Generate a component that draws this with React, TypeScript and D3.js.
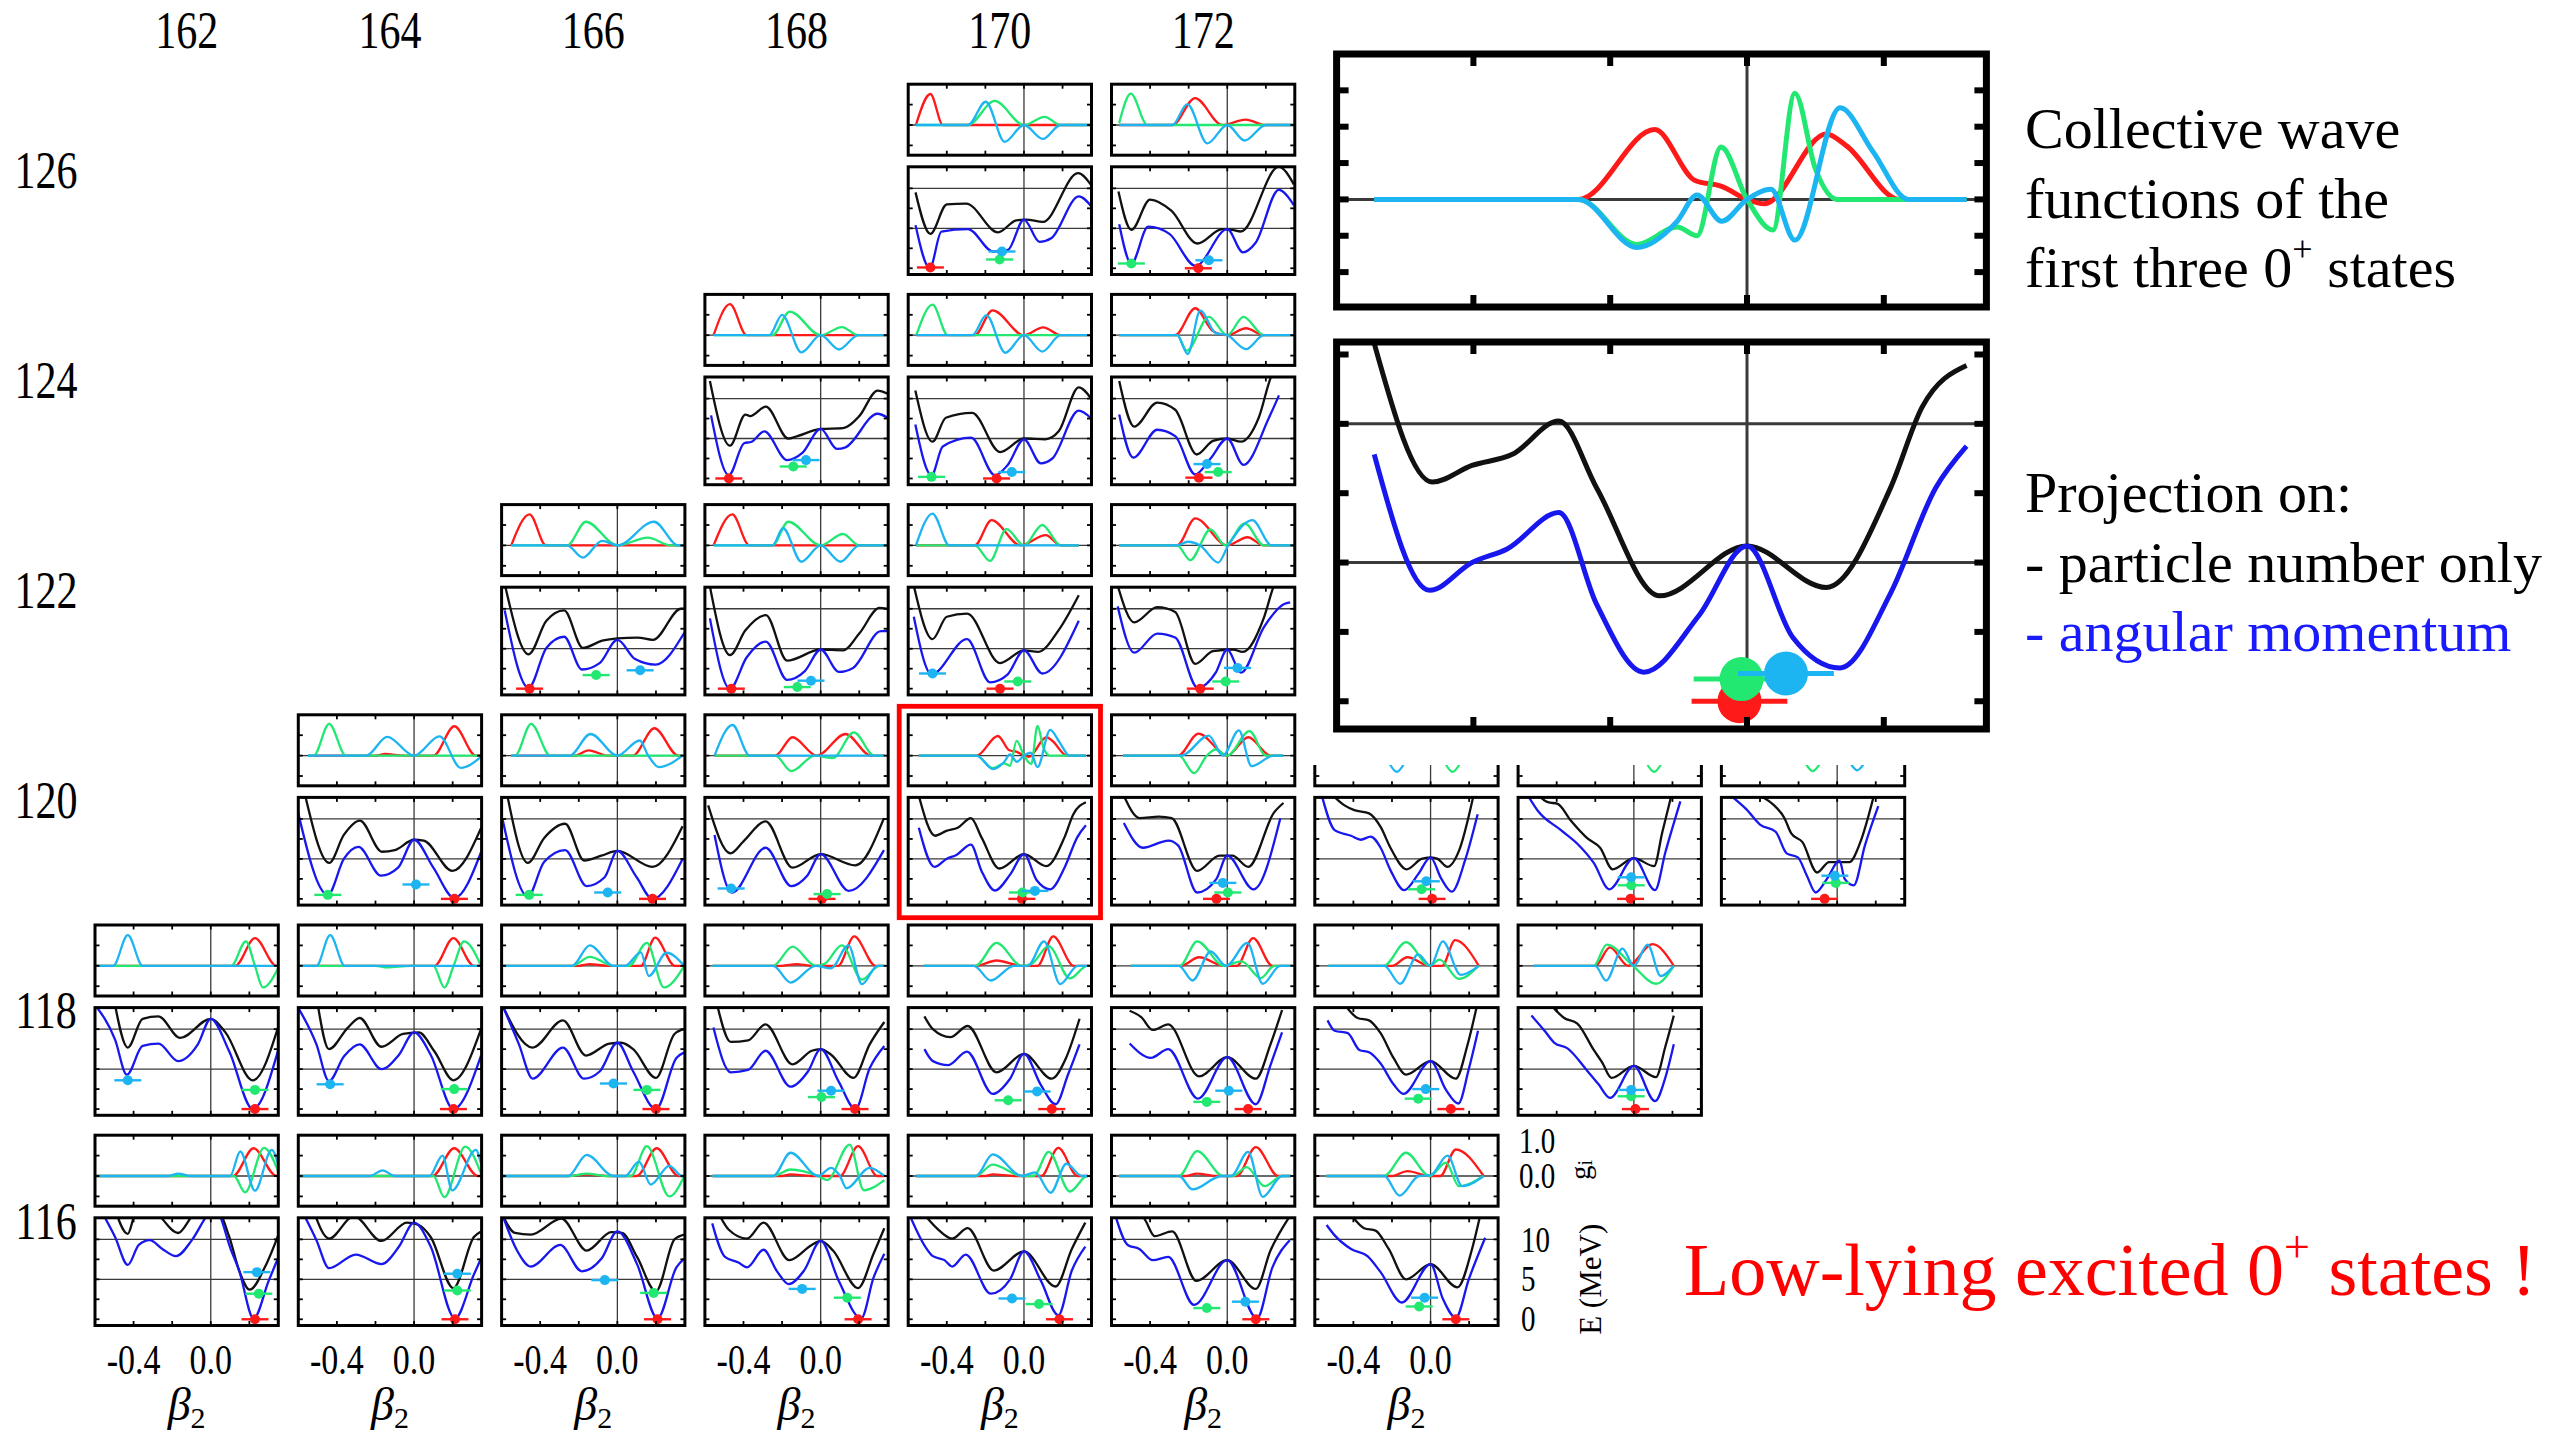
import React from 'react';
import * as d3 from 'd3';

// axis labels
const N_HEADERS = [162, 164, 166, 168, 170, 172];
const Z_ROWS = [126, 124, 122, 120, 118, 116];
const N_BOTTOM = [162, 164, 166, 168, 170, 172, 174];
const BETA_TICKS = [-0.4, -0.2, 0, 0.2];
const BETA_LABELS = [-0.4, 0.0];
const E_TICKS = [0, 2.5, 5, 7.5, 10];
const E_TICKS_BIG = [0, 2.5, 5, 7.5, 10, 12.5];
const E_GRID = [5, 10];
const G_TICKS = [-0.5, 0, 0.5];
const G_TICKS_BIG = [-0.5, -0.25, 0, 0.25, 0.5, 0.75];
const G_LABELS = ['1.0', '0.0'];
const E_LABELS = ['10', '5', '0'];

// cells [Z, N]
const CELLS = [
  [126, 170], [126, 172],
  [124, 168], [124, 170], [124, 172],
  [122, 166], [122, 168], [122, 170], [122, 172],
  [120, 164], [120, 166], [120, 168], [120, 170], [120, 172], [120, 174], [120, 176], [120, 178],
  [118, 162], [118, 164], [118, 166], [118, 168], [118, 170], [118, 172], [118, 174], [118, 176],
  [116, 162], [116, 164], [116, 166], [116, 168], [116, 170], [116, 172], [116, 174],
];
const HIGHLIGHT = [120, 170];

// E(beta2) projected on particle number only (black)
const PNP_CURVES = [
  [[-0.562, 9.5], [-0.485, 4.3], [-0.40, 8.0], [-0.30, 8.1], [-0.134, 4.5], [-0.04, 6.0], [0.01, 6.1], [0.098, 5.8], [0.28, 11.9], [0.357, 10.1]],
  [[-0.564, 9.6], [-0.497, 4.8], [-0.40, 8.6], [-0.29, 7.2], [-0.155, 3.1], [-0.026, 4.9], [0.026, 4.8], [0.07, 4.6], [0.267, 12.7], [0.345, 10.5]],
  [[-0.574, 12.2], [-0.47, 4.1], [-0.39, 8.0], [-0.366, 7.8], [-0.284, 9.0], [-0.168, 5.0], [-0.121, 5.3], [0, 6.2], [0.116, 6.3], [0.2, 7.8], [0.295, 11.0], [0.347, 10.6]],
  [[-0.563, 11.0], [-0.474, 4.6], [-0.405, 7.6], [-0.268, 8.2], [-0.124, 3.3], [0, 5.0], [0.11, 4.9], [0.18, 5.9], [0.284, 11.4], [0.345, 10.1]],
  [[-0.56, 12.2], [-0.482, 6.5], [-0.363, 9.5], [-0.27, 8.6], [-0.158, 3.0], [-0.074, 4.7], [0, 5.0], [0.071, 4.6], [0.163, 7.6], [0.23, 12.9], [0.26, 14]],
  [[-0.58, 12.7], [-0.46, 4.3], [-0.368, 8.5], [-0.276, 9.8], [-0.179, 5.1], [-0.079, 6.0], [0, 6.3], [0.105, 6.4], [0.184, 6.1], [0.33, 10.0], [0.347, 10.0]],
  [[-0.574, 12.8], [-0.47, 4.2], [-0.39, 7.3], [-0.284, 9.2], [-0.174, 3.5], [0, 4.9], [0.116, 4.8], [0.2, 6.9], [0.305, 10.1], [0.347, 10.0]],
  [[-0.571, 12.9], [-0.474, 6.2], [-0.4, 9.0], [-0.295, 9.4], [-0.124, 3.2], [0, 4.8], [0.074, 4.6], [0.179, 7.3], [0.284, 11.7]],
  [[-0.568, 12.9], [-0.482, 8.3], [-0.363, 10.2], [-0.27, 9.6], [-0.166, 3.1], [-0.074, 4.7], [0.03, 4.9], [0.08, 4.6], [0.19, 8.9], [0.242, 12.9], [0.26, 13.8]],
  [[-0.563, 12.8], [-0.44, 4.5], [-0.364, 8.0], [-0.281, 9.8], [-0.166, 5.9], [-0.1, 6.1], [0, 7.4], [0.05, 7.3], [0.199, 3.5], [0.348, 8.9]],
  [[-0.57, 12.9], [-0.464, 4.5], [-0.38, 7.6], [-0.271, 9.4], [-0.172, 4.8], [-0.083, 5.4], [0, 6.0], [0.182, 4.0], [0.338, 9.1]],
  [[-0.583, 11.7], [-0.467, 5.7], [-0.4, 7.2], [-0.285, 9.7], [-0.146, 3.9], [0, 5.6], [0.179, 4.2], [0.328, 10.1]],
  [[-0.545, 12.9], [-0.46, 7.9], [-0.402, 8.5], [-0.343, 8.9], [-0.275, 10.1], [-0.22, 7.7], [-0.128, 3.8], [0, 5.6], [0.116, 4.1], [0.21, 7.7], [0.256, 10.6], [0.321, 12.1]],
  [[-0.536, 12.9], [-0.454, 10.1], [-0.354, 10.3], [-0.288, 10.1], [-0.156, 3.5], [-0.04, 5.4], [0.026, 5.4], [0.109, 4.0], [0.242, 10.8], [0.291, 12.0]],
  [[-0.505, 12.9], [-0.446, 11.7], [-0.395, 11.1], [-0.319, 10.7], [-0.259, 9.0], [-0.208, 6.4], [-0.124, 3.7], [-0.047, 5.0], [0, 5.2], [0.037, 5.0], [0.088, 4.0], [0.147, 6.0], [0.224, 13.1]],
  [[-0.497, 13], [-0.446, 12.1], [-0.395, 11.9], [-0.327, 9.8], [-0.242, 7.6], [-0.175, 6.4], [-0.11, 3.7], [0, 5.1], [0.105, 4.1], [0.147, 8.3], [0.195, 13]],
  [[-0.4, 12.9], [-0.331, 11.8], [-0.273, 10.1], [-0.238, 8.2], [-0.18, 7.1], [-0.104, 3.3], [-0.042, 4.6], [0.063, 4.6], [0.12, 7.1], [0.19, 12.9]],
  [[-0.5, 13.5], [-0.43, 7.7], [-0.353, 11.3], [-0.271, 11.6], [-0.159, 8.9], [0, 11.3], [0.076, 9.6], [0.218, 3.6], [0.351, 10.4]],
  [[-0.5, 13.2], [-0.441, 7.5], [-0.343, 10.2], [-0.282, 11.4], [-0.169, 7.8], [-0.057, 9.4], [0.024, 9.6], [0.106, 7.2], [0.204, 3.6], [0.347, 10]],
  [[-0.596, 13], [-0.439, 7.7], [-0.282, 11.1], [-0.163, 6.7], [-0.041, 8.2], [0.02, 8.3], [0.082, 7.5], [0.2, 3.9], [0.296, 9.4], [0.347, 10]],
  [[-0.536, 13], [-0.466, 8.4], [-0.376, 8.6], [-0.286, 10.6], [-0.146, 5.6], [-0.046, 7.3], [0, 7.5], [0.054, 6.8], [0.17, 3.9], [0.254, 8.1], [0.33, 10.9]],
  [[-0.516, 11.6], [-0.472, 10], [-0.382, 9.0], [-0.292, 10.4], [-0.142, 4.6], [0, 6.9], [0.144, 3.8], [0.218, 6.4], [0.288, 11.3]],
  [[-0.506, 12.3], [-0.446, 11.5], [-0.386, 9.9], [-0.306, 10.6], [-0.146, 4.1], [0, 6.5], [0.148, 3.8], [0.224, 8.1], [0.284, 12.4]],
  [[-0.446, 13.1], [-0.378, 11.4], [-0.319, 11.1], [-0.259, 9.5], [-0.192, 6.4], [-0.127, 4.3], [0, 6.0], [0.131, 3.8], [0.19, 7.9], [0.241, 13]],
  [[-0.429, 13], [-0.361, 11.4], [-0.293, 10.7], [-0.208, 7.4], [-0.166, 5.9], [-0.115, 3.9], [0, 5.4], [0.114, 4.0], [0.164, 7.9], [0.207, 11.7]],
  [[-0.5, 14], [-0.43, 10.7], [-0.394, 13.1], [-0.33, 14.5], [-0.271, 13.1], [-0.169, 10.8], [-0.088, 13.1], [0.024, 14], [0.096, 10.3], [0.147, 6.1], [0.202, 3.7], [0.28, 6.5], [0.351, 10.6]],
  [[-0.52, 13.5], [-0.441, 10.1], [-0.312, 12.9], [-0.169, 9.8], [-0.037, 12.1], [0.024, 11.8], [0.086, 10.3], [0.204, 3.9], [0.31, 10.3], [0.347, 11]],
  [[-0.596, 13.1], [-0.531, 10.8], [-0.449, 10.6], [-0.29, 12.6], [-0.159, 8.6], [-0.031, 10.9], [0.024, 10.8], [0.102, 7.8], [0.2, 3.5], [0.296, 10.0], [0.347, 10.6]],
  [[-0.526, 13.1], [-0.476, 11.2], [-0.382, 10.1], [-0.296, 12.1], [-0.162, 7.4], [-0.046, 9.3], [0, 9.8], [0.064, 8.6], [0.194, 3.9], [0.274, 8.2], [0.33, 11.4]],
  [[-0.516, 13.1], [-0.452, 11.4], [-0.372, 10.1], [-0.292, 11.4], [-0.156, 6.1], [0, 8.5], [0.164, 4.1], [0.248, 8.8], [0.318, 12.1]],
  [[-0.496, 13], [-0.436, 12.7], [-0.376, 10.4], [-0.286, 11.0], [-0.16, 4.8], [0, 7.4], [0.148, 3.8], [0.224, 8.6], [0.324, 12.9]],
  [[-0.412, 13.1], [-0.344, 11.4], [-0.285, 11.1], [-0.217, 8.8], [-0.127, 5.0], [0, 6.9], [0.139, 4.0], [0.215, 8.8], [0.258, 13.1]],
];

// E(beta2) projected on angular momentum too (blue)
const AMP_CURVES = [
  [[-0.562, 5.4], [-0.488, 0], [-0.428, 4.6], [-0.29, 4.9], [-0.16, 2.1], [-0.083, 2.3], [0, 6.1], [0.081, 3.3], [0.141, 3.75], [0.284, 9.0], [0.357, 7.5]],
  [[-0.56, 5.5], [-0.497, 0.6], [-0.41, 5.2], [-0.30, 4.3], [-0.164, 0.3], [0, 4.9], [0.081, 2.0], [0.147, 3.2], [0.267, 9.8], [0.345, 7.9]],
  [[-0.568, 7.9], [-0.476, 0.4], [-0.397, 4.4], [-0.358, 4.6], [-0.292, 5.9], [-0.174, 2.3], [-0.095, 3.2], [0, 6.2], [0.084, 3.7], [0.129, 3.9], [0.295, 8.1], [0.347, 7.6]],
  [[-0.563, 6.75], [-0.479, 0.4], [-0.421, 4.0], [-0.274, 5.1], [-0.15, 0.4], [-0.084, 1.7], [0, 4.9], [0.087, 1.9], [0.147, 2.5], [0.284, 8.5], [0.345, 7.6]],
  [[-0.56, 8.0], [-0.487, 2.6], [-0.363, 6.1], [-0.27, 5.3], [-0.166, 0.5], [-0.087, 2.5], [0, 5.0], [0.084, 1.7], [0.216, 7.6], [0.268, 10.4]],
  [[-0.584, 9.8], [-0.46, 0.1], [-0.368, 5.1], [-0.276, 6.5], [-0.184, 2.4], [-0.092, 3.2], [0, 6.1], [0.092, 3.7], [0.197, 3.0], [0.347, 7.0]],
  [[-0.574, 8.8], [-0.47, 0], [-0.384, 3.9], [-0.284, 5.9], [-0.174, 1.1], [-0.082, 2.2], [0, 4.9], [0.095, 2.1], [0.168, 2.6], [0.313, 7.2], [0.347, 7.2]],
  [[-0.571, 9.0], [-0.479, 1.8], [-0.295, 6.2], [-0.176, 0.8], [-0.084, 1.8], [0, 4.8], [0.095, 1.9], [0.284, 8.5]],
  [[-0.568, 10.3], [-0.482, 4.5], [-0.363, 6.9], [-0.27, 6.4], [-0.153, 0.1], [-0.06, 2.0], [0, 4.9], [0.071, 2.0], [0.19, 7.7], [0.295, 10.6], [0.326, 10.8]],
  [[-0.606, 11.3], [-0.447, 0.5], [-0.364, 5.0], [-0.288, 6.5], [-0.172, 2.9], [-0.083, 3.9], [0, 7.4], [0.1, 3.9], [0.209, 0.1], [0.348, 5.9]],
  [[-0.596, 10.1], [-0.464, 0.3], [-0.38, 4.6], [-0.271, 6.1], [-0.159, 1.6], [-0.066, 2.7], [0, 6.0], [0.1, 2.7], [0.182, 0], [0.338, 5.0]],
  [[-0.55, 8.0], [-0.46, 0.8], [-0.285, 6.4], [-0.152, 1.6], [-0.07, 2.9], [0, 5.6], [0.146, 1.0], [0.328, 6.1]],
  [[-0.545, 8.9], [-0.464, 4.0], [-0.402, 5.0], [-0.35, 5.5], [-0.275, 6.8], [-0.22, 3.5], [-0.151, 1.05], [-0.07, 3.1], [0, 5.6], [0.067, 2.3], [0.136, 1.2], [0.21, 3.9], [0.276, 7.7], [0.321, 9.2]],
  [[-0.536, 9.5], [-0.437, 6.4], [-0.305, 7.3], [-0.255, 6.7], [-0.156, 0.8], [-0.056, 2.5], [0, 5.4], [0.136, 1.2], [0.275, 10.1]],
  [[-0.561, 12.7], [-0.497, 8.6], [-0.412, 7.9], [-0.361, 7.4], [-0.31, 7.8], [-0.259, 6.4], [-0.208, 3.6], [-0.137, 1.1], [-0.064, 3.1], [0, 5.2], [0.054, 2.6], [0.11, 0.9], [0.181, 5.0], [0.244, 10.6]],
  [[-0.551, 13], [-0.497, 11], [-0.378, 8.6], [-0.293, 6.9], [-0.208, 4.5], [-0.127, 1.2], [0, 5.1], [0.11, 1.1], [0.164, 5.9], [0.241, 12.2]],
  [[-0.551, 12.9], [-0.47, 11.2], [-0.4, 9.3], [-0.319, 8.4], [-0.262, 5.7], [-0.204, 5.2], [-0.157, 2.9], [-0.111, 0.8], [-0.053, 2.5], [0.012, 4.8], [0.039, 2.5], [0.086, 1.7], [0.144, 6.7], [0.213, 11.6]],
  [[-0.602, 13.1], [-0.496, 8.7], [-0.435, 4.3], [-0.353, 7.9], [-0.271, 8.2], [-0.169, 6.0], [-0.067, 8.1], [0, 11.3], [0.096, 7.2], [0.218, 0], [0.351, 7.5]],
  [[-0.608, 13], [-0.506, 8.1], [-0.441, 3.5], [-0.363, 6.6], [-0.282, 8.1], [-0.169, 5.0], [-0.078, 6.8], [0, 9.6], [0.086, 6.8], [0.204, 0], [0.347, 6.7]],
  [[-0.596, 13], [-0.51, 8.1], [-0.439, 3.8], [-0.282, 7.7], [-0.173, 3.8], [-0.092, 4.7], [0, 8.3], [0.082, 4.7], [0.2, 0], [0.306, 6.4], [0.347, 7.1]],
  [[-0.556, 10.2], [-0.466, 4.6], [-0.376, 4.9], [-0.286, 7.3], [-0.156, 2.8], [-0.066, 4.7], [0, 7.5], [0.094, 3.4], [0.18, 0], [0.254, 5.1], [0.33, 7.9]],
  [[-0.516, 7.5], [-0.472, 6.0], [-0.392, 5.5], [-0.296, 7.2], [-0.162, 1.9], [-0.072, 3.8], [0, 6.9], [0.088, 3.0], [0.164, 0.6], [0.228, 4.3], [0.288, 8.1]],
  [[-0.506, 8.2], [-0.396, 6.4], [-0.306, 7.5], [-0.152, 1.3], [0, 6.5], [0.148, 0.6], [0.224, 5.5], [0.284, 9.6]],
  [[-0.534, 11.1], [-0.497, 9.8], [-0.429, 9.5], [-0.369, 7.4], [-0.319, 7.1], [-0.259, 5.7], [-0.192, 3.1], [-0.141, 1.9], [0, 6.0], [0.08, 2.4], [0.144, 0.7], [0.198, 5.0], [0.246, 9.8]],
  [[-0.531, 11.7], [-0.463, 9.8], [-0.412, 8.3], [-0.344, 7.6], [-0.242, 4.8], [-0.183, 3.1], [-0.124, 1.4], [0, 5.4], [0.11, 1.0], [0.164, 4.0], [0.207, 8.1]],
  [[-0.557, 13.1], [-0.496, 10.3], [-0.43, 6.8], [-0.373, 9.3], [-0.316, 9.9], [-0.251, 8.8], [-0.18, 7.9], [-0.098, 9.9], [-0.016, 13.1], [0.02, 14], [0.106, 8.6], [0.147, 6.1], [0.222, 0.1], [0.3, 4.8], [0.351, 7.8]],
  [[-0.571, 13.1], [-0.506, 9.9], [-0.441, 6.4], [-0.302, 8.1], [-0.169, 6.9], [-0.078, 9.1], [0, 12.1], [0.086, 9.1], [0.212, 0.1], [0.31, 5.6], [0.347, 7.6]],
  [[-0.596, 13.1], [-0.52, 8.6], [-0.449, 6.6], [-0.296, 9.3], [-0.184, 6.0], [-0.082, 7.6], [0, 11.0], [0.102, 6.9], [0.208, 0.1], [0.306, 6.5], [0.347, 7.6]],
  [[-0.562, 12], [-0.496, 7.8], [-0.426, 7.1], [-0.382, 6.5], [-0.296, 8.7], [-0.226, 6.0], [-0.166, 4.4], [-0.086, 6.1], [0, 9.8], [0.094, 4.8], [0.21, 0.1], [0.274, 5.2], [0.33, 8.2]],
  [[-0.592, 13], [-0.512, 9.1], [-0.472, 7.9], [-0.412, 7.4], [-0.372, 6.6], [-0.302, 8.1], [-0.172, 3.2], [-0.072, 5.0], [0, 8.5], [0.088, 4.8], [0.178, 0.5], [0.248, 6.1], [0.318, 9.1]],
  [[-0.58, 13], [-0.516, 9.3], [-0.456, 8.8], [-0.386, 7.4], [-0.306, 7.8], [-0.172, 1.8], [0, 7.4], [0.154, 0.1], [0.234, 6.5], [0.324, 9.9]],
  [[-0.539, 11.8], [-0.497, 10.5], [-0.412, 8.8], [-0.327, 7.9], [-0.259, 5.9], [-0.149, 2.1], [0, 6.9], [0.063, 2.6], [0.131, 0.2], [0.198, 5.0], [0.283, 10.2]],
];

// collective wave functions g_i(beta2): ground state (red)
const WAVE_GS = [
  [[-0.56, 0], [-0.485, 0.76], [-0.42, 0], [0.357, 0]],
  [[-0.56, 0], [-0.284, 0], [-0.167, 0.66], [-0.026, 0], [0.095, 0.13], [0.198, 0], [0.345, 0]],
  [[-0.555, 0], [-0.47, 0.76], [-0.384, 0], [0.347, 0]],
  [[-0.558, 0], [-0.255, 0], [-0.163, 0.61], [0, 0], [0.1, 0.19], [0.19, 0], [0.345, 0]],
  [[-0.56, 0], [-0.27, 0], [-0.166, 0.66], [-0.074, 0.1], [0, 0], [0.097, 0.17], [0.19, 0], [0.35, 0]],
  [[-0.55, 0], [-0.455, 0.76], [-0.37, 0], [0.35, 0]],
  [[-0.555, 0], [-0.458, 0.76], [-0.37, 0], [0.35, 0]],
  [[-0.56, 0], [-0.255, 0], [-0.168, 0.62], [-0.018, 0], [0.113, 0.25], [0.19, 0], [0.284, 0]],
  [[-0.56, 0], [-0.26, 0], [-0.166, 0.66], [0, 0], [0.105, 0.2], [0.19, 0], [0.35, 0]],
  [[-0.55, 0], [-0.2, 0], [-0.15, 0.04], [-0.05, 0], [0.1, 0], [0.209, 0.72], [0.32, 0], [0.35, 0]],
  [[-0.55, 0], [-0.22, 0], [-0.149, 0.13], [-0.05, 0], [0.08, 0], [0.192, 0.67], [0.315, 0], [0.338, 0]],
  [[-0.55, 0], [-0.235, 0], [-0.146, 0.45], [-0.02, 0], [0.129, 0.53], [0.26, 0], [0.33, 0]],
  [[-0.545, 0], [-0.246, 0], [-0.135, 0.48], [-0.076, 0.13], [-0.037, 0.09], [0, 0], [0.025, -0.03], [0.116, 0.45], [0.145, 0.37], [0.223, 0], [0.321, 0]],
  [[-0.54, 0], [-0.255, 0], [-0.149, 0.54], [0, 0], [0.109, 0.45], [0.225, 0], [0.29, 0]],
  [[-0.5, 0], [0.25, 0]],
  [[-0.5, 0], [0.24, 0]],
  [[-0.5, 0], [0.22, 0]],
  [[-0.6, 0], [0.127, 0], [0.229, 0.68], [0.34, 0], [0.351, 0]],
  [[-0.6, 0], [0.106, 0], [0.204, 0.68], [0.31, 0], [0.35, 0]],
  [[-0.6, 0], [-0.2, 0], [-0.143, 0.04], [-0.05, 0], [0.122, 0], [0.196, 0.69], [0.298, 0], [0.347, 0]],
  [[-0.56, 0], [-0.2, 0], [-0.126, 0.04], [-0.05, 0], [0.09, 0], [0.174, 0.72], [0.284, 0], [0.33, 0]],
  [[-0.52, 0], [-0.25, 0], [-0.142, 0.13], [-0.012, 0], [0.07, 0], [0.152, 0.72], [0.258, 0], [0.34, 0]],
  [[-0.5, 0], [-0.24, 0], [-0.146, 0.21], [-0.018, 0], [0.05, 0], [0.134, 0.68], [0.234, 0], [0.34, 0]],
  [[-0.53, 0], [-0.2, 0], [-0.12, 0.21], [-0.005, 0], [0.06, 0], [0.127, 0.63], [0.25, 0]],
  [[-0.52, 0], [-0.2, 0], [-0.124, 0.45], [-0.03, 0], [0.097, 0.53], [0.207, 0]],
  [[-0.6, 0], [0.116, 0], [0.222, 0.68], [0.34, 0], [0.351, 0]],
  [[-0.6, 0], [0.096, 0], [0.208, 0.68], [0.33, 0], [0.347, 0]],
  [[-0.6, 0], [-0.25, 0], [-0.159, 0.04], [-0.05, 0], [0.1, 0], [0.204, 0.68], [0.316, 0], [0.347, 0]],
  [[-0.56, 0], [-0.2, 0], [-0.156, 0.04], [-0.05, 0], [0.1, 0], [0.194, 0.73], [0.294, 0], [0.33, 0]],
  [[-0.56, 0], [-0.2, 0], [-0.162, 0.04], [-0.05, 0], [0.09, 0], [0.178, 0.69], [0.278, 0], [0.33, 0]],
  [[-0.56, 0], [-0.22, 0], [-0.156, 0.06], [-0.05, 0], [0.05, 0], [0.148, 0.71], [0.264, 0], [0.33, 0]],
  [[-0.54, 0], [-0.2, 0], [-0.12, 0.12], [-0.005, 0], [0.05, 0], [0.131, 0.65], [0.275, 0]],
];

// first excited 0+ (green)
const WAVE_X1 = [
  [[-0.56, 0], [-0.29, 0], [-0.152, 0.59], [0, 0], [0.107, 0.2], [0.19, 0], [0.357, 0]],
  [[-0.56, 0.05], [-0.5, 0.77], [-0.414, 0], [0.345, 0]],
  [[-0.555, 0], [-0.25, 0], [-0.16, 0.58], [0, 0], [0.11, 0.2], [0.195, 0], [0.347, 0]],
  [[-0.558, 0], [-0.474, 0.75], [-0.395, 0], [0.345, 0]],
  [[-0.56, 0], [-0.26, 0], [-0.21, -0.38], [-0.095, 0.45], [0, 0], [0.084, 0.45], [0.19, 0], [0.35, 0]],
  [[-0.55, 0], [-0.26, 0], [-0.163, 0.58], [0, 0], [0.158, 0.19], [0.276, 0], [0.35, 0]],
  [[-0.555, 0], [-0.25, 0], [-0.168, 0.58], [0, 0], [0.116, 0.28], [0.2, 0], [0.35, 0]],
  [[-0.56, 0], [-0.255, 0], [-0.176, -0.38], [-0.09, 0.4], [0, 0], [0.095, 0.5], [0.19, 0], [0.284, 0]],
  [[-0.56, 0], [-0.26, 0], [-0.192, -0.36], [-0.087, 0.39], [-0.01, 0], [0.09, 0.54], [0.19, 0], [0.35, 0]],
  [[-0.55, 0], [-0.52, 0], [-0.44, 0.78], [-0.354, 0], [0.35, 0]],
  [[-0.55, 0], [-0.53, 0], [-0.447, 0.78], [-0.348, 0], [0.338, 0]],
  [[-0.55, 0], [-0.235, 0], [-0.152, -0.38], [-0.03, 0], [0.063, -0.06], [0.172, 0.57], [0.278, 0], [0.33, 0]],
  [[-0.545, 0], [-0.246, 0], [-0.161, -0.31], [-0.102, -0.19], [-0.073, -0.25], [-0.038, 0.36], [0, 0], [0.038, -0.21], [0.07, 0.73], [0.1, 0.21], [0.132, 0], [0.321, 0]],
  [[-0.54, 0], [-0.25, 0], [-0.172, -0.43], [-0.106, 0], [-0.06, 0.15], [0, 0], [0.115, 0.6], [0.2, 0], [0.29, 0]],
  [[-0.5, 0], [0.04, 0], [0.114, -0.4], [0.19, 0], [0.25, 0]],
  [[-0.5, 0], [0.03, 0], [0.105, -0.4], [0.18, 0], [0.24, 0]],
  [[-0.5, 0], [-0.2, 0], [-0.127, -0.38], [-0.05, 0], [0.22, 0]],
  [[-0.6, 0], [0.106, 0], [0.182, 0.6], [0.229, 0], [0.27, -0.53], [0.351, -0.05]],
  [[-0.6, 0], [-0.2, 0], [-0.139, -0.04], [-0.02, 0], [0.1, 0], [0.157, -0.53], [0.205, 0], [0.259, 0.6], [0.347, 0]],
  [[-0.6, 0], [-0.235, 0], [-0.143, 0.22], [-0.02, 0], [0.06, 0], [0.153, 0.56], [0.241, -0.53], [0.347, 0]],
  [[-0.56, 0], [-0.246, 0], [-0.146, 0.47], [-0.026, 0], [0.02, 0.05], [0.11, 0.5], [0.214, -0.34], [0.304, 0], [0.33, 0]],
  [[-0.52, 0], [-0.252, 0], [-0.142, 0.56], [-0.012, 0], [0.04, 0.05], [0.128, 0.48], [0.238, -0.31], [0.328, 0], [0.34, 0]],
  [[-0.5, 0], [-0.246, 0], [-0.156, 0.6], [-0.018, 0], [0.074, 0.11], [0.174, -0.3], [0.244, 0], [0.34, 0]],
  [[-0.53, 0], [-0.242, 0], [-0.127, 0.58], [-0.005, 0], [0.046, 0.15], [0.147, -0.32], [0.25, 0]],
  [[-0.52, 0], [-0.208, 0], [-0.141, 0.52], [-0.005, 0], [0.114, -0.44], [0.207, 0]],
  [[-0.6, 0], [0.12, 0], [0.178, -0.4], [0.276, 0.69], [0.351, 0.1]],
  [[-0.6, 0], [0.1, 0], [0.157, -0.52], [0.265, 0.72], [0.347, 0.06]],
  [[-0.6, 0], [-0.25, 0], [-0.159, 0.06], [-0.05, 0], [0.07, 0], [0.153, 0.73], [0.269, -0.5], [0.347, 0]],
  [[-0.56, 0], [-0.246, 0], [-0.156, 0.16], [-0.013, 0], [0.034, -0.1], [0.15, 0.77], [0.224, -0.35], [0.33, -0.1]],
  [[-0.56, 0], [-0.25, 0], [-0.162, 0.28], [-0.01, 0], [0.05, 0], [0.128, 0.59], [0.238, -0.38], [0.328, 0], [0.33, 0]],
  [[-0.56, 0], [-0.25, 0], [-0.156, 0.61], [-0.02, 0], [0.03, 0], [0.1, 0.22], [0.194, -0.25], [0.284, 0], [0.33, 0]],
  [[-0.54, 0], [-0.242, 0], [-0.127, 0.57], [-0.005, 0], [0.08, 0.33], [0.147, -0.25], [0.275, 0]],
];

// second excited 0+ (light blue)
const WAVE_X2 = [
  [[-0.56, 0], [-0.29, 0], [-0.198, 0.57], [-0.10, -0.41], [0, 0], [0.098, -0.34], [0.19, 0], [0.357, 0]],
  [[-0.56, 0], [-0.284, 0], [-0.207, 0.51], [-0.103, -0.45], [0, 0], [0.09, -0.38], [0.2, 0], [0.345, 0]],
  [[-0.555, 0], [-0.266, 0], [-0.2, 0.5], [-0.1, -0.42], [0, 0], [0.095, -0.35], [0.195, 0], [0.347, 0]],
  [[-0.558, 0], [-0.268, 0], [-0.195, 0.49], [-0.097, -0.43], [0, 0], [0.095, -0.4], [0.19, 0], [0.345, 0]],
  [[-0.56, 0], [-0.26, 0], [-0.205, -0.46], [-0.14, 0.6], [-0.06, 0.05], [0, 0], [0.097, -0.34], [0.19, 0], [0.35, 0]],
  [[-0.55, 0], [-0.26, 0], [-0.179, -0.3], [-0.079, 0.11], [0, 0], [0.19, 0.58], [0.316, 0], [0.35, 0]],
  [[-0.555, 0], [-0.25, 0], [-0.195, 0.42], [-0.1, -0.4], [0, 0], [0.103, -0.4], [0.2, 0], [0.35, 0]],
  [[-0.56, 0], [-0.474, 0.78], [-0.387, 0], [0.284, 0]],
  [[-0.56, 0], [-0.26, 0], [-0.205, 0.09], [-0.14, 0], [-0.047, -0.42], [0.005, 0], [0.13, 0.62], [0.23, 0], [0.35, 0]],
  [[-0.55, 0], [-0.248, 0], [-0.139, 0.46], [0, 0], [0.132, 0.47], [0.242, -0.3], [0.35, -0.02]],
  [[-0.55, 0], [-0.248, 0], [-0.139, 0.53], [0, 0], [0.116, 0.37], [0.16, 0], [0.215, -0.28], [0.338, 0]],
  [[-0.55, 0], [-0.457, 0.75], [-0.368, 0], [0.33, 0]],
  [[-0.545, 0], [-0.246, 0], [-0.161, -0.33], [-0.102, -0.15], [-0.073, 0.03], [-0.037, -0.15], [0, 0], [0.035, 0.07], [0.07, -0.28], [0.136, 0.63], [0.184, 0.33], [0.236, 0], [0.321, 0]],
  [[-0.54, 0], [-0.238, 0], [-0.096, 0.49], [-0.023, 0], [0.06, 0.62], [0.126, -0.26], [0.24, 0], [0.29, 0]],
  [[-0.5, 0], [-0.25, 0], [-0.175, -0.4], [-0.1, 0], [0.25, 0]],
  [[-0.5, 0], [0.24, 0]],
  [[-0.5, 0], [0.03, 0], [0.104, -0.36], [0.18, 0], [0.22, 0]],
  [[-0.6, 0], [-0.506, 0], [-0.43, 0.75], [-0.353, 0], [0.35, 0]],
  [[-0.6, 0], [-0.506, 0], [-0.435, 0.75], [-0.359, 0], [0.35, 0]],
  [[-0.6, 0], [-0.235, 0], [-0.143, 0.5], [-0.02, 0], [0.04, 0], [0.122, 0.33], [0.163, -0.25], [0.255, 0.32], [0.347, 0]],
  [[-0.56, 0], [-0.246, 0], [-0.156, -0.41], [-0.026, 0], [0.054, -0.06], [0.144, 0.5], [0.214, -0.45], [0.294, 0], [0.33, 0]],
  [[-0.52, 0], [-0.26, 0], [-0.172, -0.36], [-0.052, 0], [0.02, 0], [0.104, 0.6], [0.188, -0.45], [0.278, 0], [0.34, 0]],
  [[-0.5, 0], [-0.25, 0], [-0.18, -0.36], [-0.086, 0.35], [-0.006, 0], [0.104, 0.56], [0.184, -0.44], [0.274, 0], [0.34, 0]],
  [[-0.53, 0], [-0.24, 0], [-0.158, -0.44], [-0.064, 0.28], [0, 0], [0.063, 0.6], [0.156, -0.22], [0.25, 0]],
  [[-0.52, 0], [-0.2, 0], [-0.144, -0.36], [-0.059, 0.42], [0, 0], [0.071, 0.52], [0.139, -0.25], [0.207, 0]],
  [[-0.6, 0], [-0.22, 0], [-0.169, 0.06], [-0.1, 0], [0.1, 0], [0.153, 0.6], [0.229, -0.36], [0.316, 0.64], [0.351, 0.25]],
  [[-0.6, 0], [-0.23, 0], [-0.163, 0.14], [-0.1, 0], [0.08, 0], [0.147, 0.5], [0.198, -0.35], [0.32, 0.64], [0.347, 0.3]],
  [[-0.6, 0], [-0.255, 0], [-0.159, 0.52], [-0.02, 0], [0.04, 0], [0.112, 0.35], [0.173, -0.21], [0.269, 0.25], [0.337, 0], [0.347, 0]],
  [[-0.56, 0], [-0.246, 0], [-0.156, 0.57], [-0.013, 0], [0.054, 0.2], [0.1, 0], [0.134, -0.3], [0.254, 0.2], [0.33, 0]],
  [[-0.56, 0], [-0.25, 0], [-0.162, 0.53], [-0.01, 0], [0.058, 0.09], [0.138, -0.41], [0.22, 0.3], [0.3, 0], [0.33, 0]],
  [[-0.56, 0], [-0.25, 0], [-0.18, -0.33], [-0.03, 0], [0.02, 0], [0.108, 0.59], [0.184, -0.51], [0.284, 0], [0.33, 0]],
  [[-0.54, 0], [-0.24, 0], [-0.161, -0.48], [-0.06, 0], [0.0, 0.02], [0.088, 0.5], [0.164, -0.25], [0.275, 0]],
];

// level positions [beta2, E]
const LEVEL_GS = [
  [-0.485, 0.1], [-0.15, 0], [-0.476, 0], [-0.142, 0], [-0.147, 0.1], [-0.455, 0], [-0.463, 0], [-0.124, 0], [-0.14, 0],
  [0.209, 0], [0.182, 0], [0.007, 0], [-0.011, 0], [-0.056, 0], [0.008, 0], [-0.017, 0], [-0.065, 0],
  [0.229, 0], [0.204, 0], [0.2, 0], [0.178, 0], [0.144, 0], [0.108, 0], [0.105, 0], [0.008, 0],
  [0.229, 0], [0.212, 0], [0.208, 0], [0.194, 0], [0.184, 0], [0.148, 0], [0.131, 0],
];
const LEVEL_X1 = [
  [-0.126, 1.1], [-0.497, 0.6], [-0.142, 1.5], [-0.479, 0.2], [-0.047, 0.8], [-0.11, 1.7], [-0.121, 0.2], [-0.032, 0.9], [-0.008, 0.9],
  [-0.447, 0.5], [-0.457, 0.5], [0.033, 0.6], [-0.008, 0.8], [0.003, 0.8], [-0.047, 1.2], [-0.014, 1.7], [-0.007, 2.0],
  [0.229, 2.4], [0.208, 2.5], [0.153, 2.4], [0.004, 1.5], [-0.082, 1.1], [-0.106, 0.9], [-0.064, 1.3], [-0.014, 1.6],
  [0.249, 3.2], [0.224, 3.6], [0.188, 3.3], [0.138, 2.7], [0.078, 1.9], [-0.106, 1.4], [-0.059, 1.6],
];
const LEVEL_X2 = [
  [-0.114, 2.1], [-0.095, 1.0], [-0.076, 2.3], [-0.063, 0.8], [-0.105, 1.8], [0.118, 2.3], [-0.05, 1.0], [-0.474, 1.9], [0.053, 2.6],
  [0.01, 1.8], [-0.05, 0.8], [-0.464, 1.3], [0.057, 1.0], [-0.023, 2.0], [-0.022, 2.2], [-0.014, 2.7], [-0.012, 2.9],
  [-0.43, 3.6], [-0.435, 3.1], [-0.02, 3.2], [0.054, 2.3], [0.068, 2.2], [0.008, 2.3], [-0.025, 2.5], [-0.014, 2.4],
  [0.239, 5.9], [0.224, 5.7], [-0.065, 4.9], [-0.096, 3.8], [-0.062, 2.6], [0.094, 2.2], [-0.031, 2.7],
];

// layout
const W = 2569, H = 1436;
const COL0 = 95, COL_STEP = 203.3, PANEL_W = 183.3;
const WAVE_TOP0 = 84.2, WAVE_H = 71, EN_TOP0 = 166.8, EN_H = 107.7, ROW_STEP = 210.2;
const SERIF = '"Liberation Serif", "DejaVu Serif", serif';
const C = { red: '#ff1a1a', green: '#22e872', cyan: '#1db4f2', blue: '#1818ee', black: '#111', grid: '#3a3a3a' };

type Geo = {
  left: number; width: number; waveTop: number; waveH: number; enTop: number; enH: number;
  eDomain: [number, number]; frame: number; curve: number; grid: number; tick: number; tickW: number;
  dot: number; barW: number; gTicks: number[]; eTicks: number[];
};

function colIndex(n: number) { return (n - 162) / 2; }

function cellGeo(z: number, n: number): Geo {
  const c = colIndex(n);
  const r = Z_ROWS.indexOf(z);
  return {
    left: COL0 + c * COL_STEP, width: PANEL_W,
    waveTop: WAVE_TOP0 + r * ROW_STEP, waveH: WAVE_H,
    enTop: EN_TOP0 + r * ROW_STEP, enH: EN_H,
    eDomain: [-0.78, 12.7], frame: 3, curve: 2.3, grid: 1.3, tick: 4.5, tickW: 1.8,
    dot: 5, barW: 2.4, gTicks: G_TICKS, eTicks: E_TICKS,
  };
}

const INSET_GEO: Geo = {
  left: 1336.6, width: 649.8, waveTop: 54, waveH: 253, enTop: 342, enH: 387,
  eDomain: [-1.0, 12.95], frame: 7, curve: 5, grid: 3, tick: 12, tickW: 6,
  dot: 22, barW: 5, gTicks: G_TICKS_BIG, eTicks: E_TICKS_BIG,
};

function Cell({ i, geo, id }: { i: number; geo: Geo; id: string }) {
  const x = d3.scaleLinear().domain([-0.6, 0.35]).range([geo.left, geo.left + geo.width]);
  const g = d3.scaleLinear().domain([-0.74, 1.0]).range([geo.waveTop + geo.waveH, geo.waveTop]);
  const e = d3.scaleLinear().domain(geo.eDomain).range([geo.enTop + geo.enH, geo.enTop]);
  const waveLine = d3.line<number[]>().x(d => x(d[0])).y(d => g(d[1])).curve(d3.curveMonotoneX);
  const enLine = d3.line<number[]>().x(d => x(d[0])).y(d => e(d[1])).curve(d3.curveMonotoneX);
  const right = geo.left + geo.width;

  const hTicks = (top: number, bottom: number) => BETA_TICKS.map(b => (
    <g key={'b' + b}>
      <line x1={x(b)} x2={x(b)} y1={top} y2={top + geo.tick} stroke="#000" strokeWidth={geo.tickW} />
      <line x1={x(b)} x2={x(b)} y1={bottom} y2={bottom - geo.tick} stroke="#000" strokeWidth={geo.tickW} />
    </g>
  ));
  const vTicks = (vals: number[], sc: (v: number) => number) => vals.map(v => (
    <g key={'v' + v}>
      <line x1={geo.left} x2={geo.left + geo.tick} y1={sc(v)} y2={sc(v)} stroke="#000" strokeWidth={geo.tickW} />
      <line x1={right} x2={right - geo.tick} y1={sc(v)} y2={sc(v)} stroke="#000" strokeWidth={geo.tickW} />
    </g>
  ));

  const levels: [number[], string][] = [[LEVEL_GS[i], C.red], [LEVEL_X1[i], C.green], [LEVEL_X2[i], C.cyan]];
  const waves: [number[][], string][] = [[WAVE_GS[i], C.red], [WAVE_X1[i], C.green], [WAVE_X2[i], C.cyan]];

  return (
    <g>
      <defs>
        <clipPath id={'cw' + id}><rect x={geo.left} y={geo.waveTop} width={geo.width} height={geo.waveH} /></clipPath>
        <clipPath id={'ce' + id}><rect x={geo.left} y={geo.enTop} width={geo.width} height={geo.enH} /></clipPath>
      </defs>
      {/* wave function panel */}
      <rect x={geo.left} y={geo.waveTop} width={geo.width} height={geo.waveH} fill="#fff" />
      <line x1={geo.left} x2={right} y1={g(0)} y2={g(0)} stroke={C.grid} strokeWidth={geo.grid} />
      <line x1={x(0)} x2={x(0)} y1={geo.waveTop} y2={geo.waveTop + geo.waveH} stroke={C.grid} strokeWidth={geo.grid} />
      <g clipPath={`url(#cw${id})`}>
        {waves.map(([pts, col], k) => (
          <path key={k} d={waveLine(pts) || ''} fill="none" stroke={col} strokeWidth={geo.curve} strokeLinejoin="round" />
        ))}
      </g>
      {hTicks(geo.waveTop, geo.waveTop + geo.waveH)}
      {vTicks(geo.gTicks, g)}
      <rect x={geo.left} y={geo.waveTop} width={geo.width} height={geo.waveH} fill="none" stroke="#000" strokeWidth={geo.frame} />

      {/* energy panel */}
      <rect x={geo.left} y={geo.enTop} width={geo.width} height={geo.enH} fill="#fff" />
      {E_GRID.map(v => (
        <line key={v} x1={geo.left} x2={right} y1={e(v)} y2={e(v)} stroke={C.grid} strokeWidth={geo.grid} />
      ))}
      <line x1={x(0)} x2={x(0)} y1={geo.enTop} y2={geo.enTop + geo.enH} stroke={C.grid} strokeWidth={geo.grid} />
      <g clipPath={`url(#ce${id})`}>
        <path d={enLine(PNP_CURVES[i]) || ''} fill="none" stroke={C.black} strokeWidth={geo.curve} strokeLinejoin="round" />
        <path d={enLine(AMP_CURVES[i]) || ''} fill="none" stroke={C.blue} strokeWidth={geo.curve} strokeLinejoin="round" />
      </g>
      {levels.map(([p, col], k) => (
        <g key={k}>
          <line x1={x(p[0] - 0.07)} x2={x(p[0] + 0.07)} y1={e(p[1])} y2={e(p[1])} stroke={col} strokeWidth={geo.barW} />
          <circle cx={x(p[0])} cy={e(p[1])} r={geo.dot} fill={col} />
        </g>
      ))}
      {hTicks(geo.enTop, geo.enTop + geo.enH)}
      {vTicks(geo.eTicks, e)}
      <rect x={geo.left} y={geo.enTop} width={geo.width} height={geo.enH} fill="none" stroke="#000" strokeWidth={geo.frame} />
    </g>
  );
}

// tall serif text, closer to the Computer Modern look of the original
function Tall({ x, y, size, children, anchor = 'middle' }: { x: number; y: number; size: number; children: React.ReactNode; anchor?: string }) {
  return (
    <text transform={`translate(${x},${y}) scale(1,1.25)`} fontSize={size} textAnchor={anchor} dominantBaseline="central">
      {children}
    </text>
  );
}

export default function App() {
  const colCenter = (n: number) => COL0 + colIndex(n) * COL_STEP + PANEL_W / 2;
  const xLocal = d3.scaleLinear().domain([-0.6, 0.35]).range([0, PANEL_W]);
  const insetIdx = CELLS.findIndex(c => c[0] === HIGHLIGHT[0] && c[1] === HIGHLIGHT[1]);
  const hg = cellGeo(HIGHLIGHT[0], HIGHLIGHT[1]);
  const lastRowTop = WAVE_TOP0 + 5 * ROW_STEP;
  const lastEnTop = EN_TOP0 + 5 * ROW_STEP;
  const eLab = d3.scaleLinear().domain([-0.78, 12.7]).range([lastEnTop + EN_H, lastEnTop]);
  const gLab = d3.scaleLinear().domain([-0.74, 1.0]).range([lastRowTop + WAVE_H, lastRowTop]);

  return (
    <svg width={W} height={H} viewBox={`0 0 ${W} ${H}`}
      style={{ position: 'absolute', left: 0, top: 0, background: '#fff', fontFamily: SERIF }}>
      <rect width={W} height={H} fill="#fff" />

      {N_HEADERS.map(n => (
        <Tall key={n} x={colCenter(n)} y={30} size={42}>{n}</Tall>
      ))}
      {Z_ROWS.map((z, r) => (
        <Tall key={z} x={46} y={170 + r * ROW_STEP} size={42}>{z}</Tall>
      ))}

      {CELLS.map((c, i) => (
        <Cell key={i} i={i} geo={cellGeo(c[0], c[1])} id={'c' + i} />
      ))}

      {/* highlighted nucleus */}
      <rect x={hg.left - 9} y={hg.waveTop - 8.5} width={PANEL_W + 18} height={211.4}
        fill="none" stroke="#f00" strokeWidth={4.8} />

      {N_BOTTOM.map(n => {
        const left = COL0 + colIndex(n) * COL_STEP;
        return (
          <g key={n}>
            {BETA_LABELS.map(b => (
              <Tall key={b} x={left + xLocal(b)} y={1360} size={34}>{b.toFixed(1)}</Tall>
            ))}
            <text x={colCenter(n)} y={1420} fontSize={46} textAnchor="middle" fontStyle="italic">
              β<tspan fontSize={30} fontStyle="normal" dy={8}>2</tspan>
            </text>
          </g>
        );
      })}

      {/* side scale labels */}
      <Tall x={1519} y={gLab(1.0) + 6} size={29} anchor="start">{G_LABELS[0]}</Tall>
      <Tall x={1519} y={gLab(0)} size={29} anchor="start">{G_LABELS[1]}</Tall>
      <text transform={`translate(1580,${gLab(0) - 6}) rotate(-90)`} fontSize={29} textAnchor="middle" dominantBaseline="central">
        g<tspan fontSize={20} dy={5}>i</tspan>
      </text>
      {[10, 5, 0].map((v, k) => (
        <Tall key={v} x={1521} y={eLab(v)} size={29} anchor="start">{E_LABELS[k]}</Tall>
      ))}
      <text transform={`translate(1590,${eLab(5)}) rotate(-90)`} fontSize={31} textAnchor="middle" dominantBaseline="central">
        E (MeV)
      </text>

      {/* inset area */}
      <rect x={1303} y={0} width={W - 1303} height={765} fill="#fff" />
      <Cell i={insetIdx} geo={INSET_GEO} id="inset" />

      <g fontSize={58}>
        <text x={2025} y={128} dominantBaseline="central">Collective wave</text>
        <text x={2025} y={198} dominantBaseline="central">functions of the</text>
        <text x={2025} y={267} dominantBaseline="central">
          first three 0<tspan fontSize={36} dy={-18}>+</tspan><tspan dy={18}> states</tspan>
        </text>
        <text x={2025} y={492} dominantBaseline="central">Projection on:</text>
        <text x={2025} y={562} dominantBaseline="central">- particle number only</text>
        <text x={2025} y={631} dominantBaseline="central" fill="#1a1aff">- angular momentum</text>
      </g>
      <text x={1684} y={1270} fontSize={74} fill="#f00" dominantBaseline="central">
        Low-lying excited 0<tspan fontSize={46} dy={-24}>+</tspan><tspan dy={24}> states !</tspan>
      </text>
    </svg>
  );
}
